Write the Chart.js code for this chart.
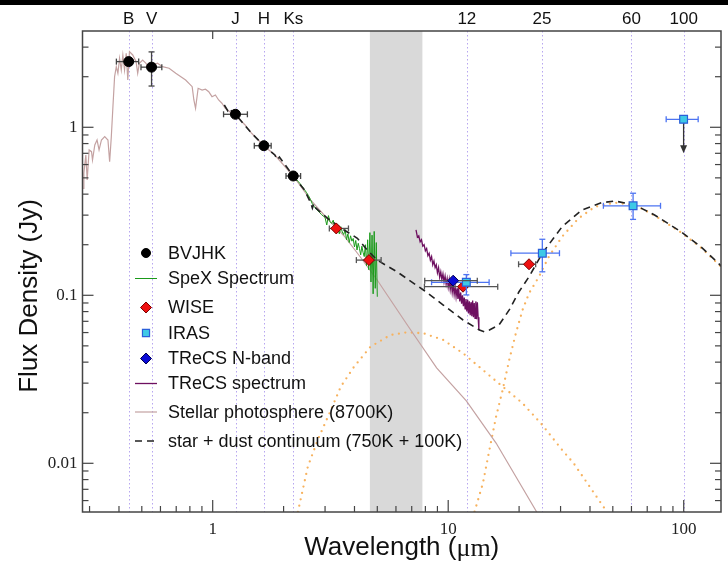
<!DOCTYPE html>
<html>
<head>
<meta charset="utf-8">
<script src="https://cdn.jsdelivr.net/npm/chart.js@4.4.0/dist/chart.umd.min.js"></script>
<style>
  html, body { margin: 0; padding: 0; background: #fff; }
  #sed { display: block; }
</style>
</head>
<body>
<canvas id="sed" width="728" height="563"></canvas>
<script>
// ---- photometry (wavelength in micron, flux in Jy) ----
const bvjhkWave = [0.44, 0.55, 1.249, 1.650, 2.198];
const bvjhkFlux = [2.46, 2.28, 1.195, 0.777, 0.513];
const bvjhkWaveErr = [[0.390, 0.485], [0.496, 0.608], [1.112, 1.404], [1.502, 1.771], [2.048, 2.362]];
const bvjhkFluxErr = [null, [1.76, 2.81], null, null, null];

const wiseWave = [3.346, 4.607, 11.56, 22.04];
const wiseFlux = [0.250, 0.162, 0.1125, 0.153];
const wiseWaveErr = [[3.128, 3.771], [4.074, 5.190], [7.925, 16.23], [19.90, 23.52]];

const irasWave = [11.94, 25.10, 60.96, 99.9];
const irasFlux = [0.1195, 0.178, 0.341, 1.116];
const irasWaveErr = [[8.5, 14.92], [18.46, 29.68], [45.6, 79.72], [84.25, 115.2]];
const irasFluxErr = [[0.1005, 0.1328], [0.138, 0.2155], [0.283, 0.405], null];
const irasUpperTo = [null, null, null, 0.70];

const nbandWave = [10.50];
const nbandFlux = [0.1222];
const nbandWaveErr = [[7.95, 13.29]];

// ---- spectra and models ----
const specxWave = [2.15, 2.20, 2.25, 2.30, 2.35, 2.40, 2.45, 2.50, 2.55, 2.60, 2.65, 2.70, 2.75, 2.80, 2.85, 2.90, 2.95, 3.00, 3.05, 3.10, 3.15, 3.20, 3.25, 3.30, 3.35, 3.40, 3.45, 3.50, 3.55, 3.60, 3.65, 3.70, 3.75, 3.80, 3.85, 3.90, 3.95, 4.00, 4.05, 4.10, 4.15, 4.20, 4.25, 4.30, 4.35, 4.40, 4.45, 4.50, 4.55, 4.60, 4.65, 4.70, 4.75, 4.80, 4.85, 4.90, 4.95, 5.00];
const specxFlux = [0.530, 0.512, 0.495, 0.478, 0.462, 0.444, 0.426, 0.410, 0.392, 0.372, 0.350, 0.338, 0.326, 0.318, 0.310, 0.302, 0.296, 0.290, 0.262, 0.298, 0.274, 0.268, 0.280, 0.252, 0.262, 0.250, 0.232, 0.256, 0.238, 0.230, 0.246, 0.214, 0.232, 0.206, 0.226, 0.210, 0.218, 0.194, 0.212, 0.186, 0.204, 0.190, 0.174, 0.196, 0.180, 0.170, 0.200, 0.150, 0.214, 0.142, 0.236, 0.120, 0.228, 0.102, 0.240, 0.110, 0.206, 0.098];

const trecsWave = [7.30, 7.40, 7.50, 7.60, 7.70, 7.80, 7.90, 8.00, 8.10, 8.20, 8.30, 8.40, 8.50, 8.60, 8.70, 8.80, 8.90, 9.00, 9.10, 9.20, 9.30, 9.40, 9.50, 9.60, 9.70, 9.80, 9.90, 10.00, 10.10, 10.20, 10.30, 10.40, 10.50, 10.60, 10.70, 10.80, 10.90, 11.00, 11.10, 11.20, 11.30, 11.40, 11.50, 11.60, 11.70, 11.80, 11.90, 12.00, 12.10, 12.20, 12.30, 12.40, 12.50, 12.60, 12.70, 12.80, 12.90, 13.00, 13.10, 13.20, 13.30, 13.40, 13.50];
const trecsFlux = [0.245, 0.222, 0.226, 0.208, 0.214, 0.196, 0.200, 0.184, 0.190, 0.172, 0.178, 0.162, 0.170, 0.152, 0.160, 0.146, 0.152, 0.136, 0.146, 0.128, 0.138, 0.124, 0.134, 0.120, 0.130, 0.116, 0.126, 0.112, 0.124, 0.108, 0.120, 0.104, 0.116, 0.101, 0.112, 0.098, 0.110, 0.095, 0.106, 0.092, 0.104, 0.089, 0.100, 0.086, 0.097, 0.083, 0.095, 0.080, 0.094, 0.078, 0.092, 0.076, 0.091, 0.075, 0.093, 0.074, 0.090, 0.073, 0.092, 0.072, 0.091, 0.074, 0.062];

const photWave = [0.2818, 0.2838, 0.2893, 0.2931, 0.2988, 0.3058, 0.3088, 0.3158, 0.3228, 0.3292, 0.3370, 0.3479, 0.3591, 0.3651, 0.3711, 0.3770, 0.3832, 0.3897, 0.3958, 0.4023, 0.4090, 0.4154, 0.4223, 0.4293, 0.4360, 0.4432, 0.4576, 0.4729, 0.4803, 0.4882, 0.5042, 0.5210, 0.5380, 0.5555, 0.5830, 0.6119, 0.6530, 0.6968, 0.7675, 0.8182, 0.8319, 0.8457, 0.8673, 0.9016, 0.9317, 0.9620, 0.9933, 1.0266, 1.0598, 1.0942, 1.1310, 1.2057, 1.2864, 1.3728, 1.463, 1.650, 1.836, 2.198, 2.609, 3.076, 3.616, 4.235, 4.993, 6.874, 8.929, 11.94, 15.97, 23.76, 31.46];
const photFlux = [0.4334, 0.5346, 0.6841, 0.4857, 0.7326, 0.7157, 0.6389, 0.7846, 0.8403, 0.7326, 0.8403, 0.879, 0.8403, 0.624, 0.879, 1.326, 2.001, 2.295, 2.096, 2.575, 2.193, 2.694, 2.193, 2.757, 1.912, 2.818, 2.694, 2.458, 2.096, 2.404, 2.515, 2.404, 2.193, 2.349, 2.404, 2.295, 2.245, 2.096, 1.912, 1.745, 1.454, 1.298, 1.707, 1.667, 1.684, 1.629, 1.521, 1.557, 1.454, 1.39, 1.298, 1.211, 1.131, 1.032, 0.921, 0.777, 0.684, 0.513, 0.369, 0.2845, 0.2254, 0.169, 0.1233, 0.0632, 0.037, 0.0235, 0.0132, 0.00513, 0.00285];

const hotWave = [2.300, 2.535, 2.792, 3.177, 3.499, 3.985, 4.679, 5.679, 6.677, 7.849, 9.528, 11.56, 14.04, 17.03, 20.69, 25.10, 30.46, 34.09, 47.25];
const hotFlux = [0.00513, 0.00955, 0.01376, 0.02077, 0.02858, 0.03758, 0.04943, 0.058, 0.0602, 0.0594, 0.0542, 0.0452, 0.0359, 0.0286, 0.02276, 0.0169, 0.012, 0.010, 0.00513];

const coldWave = [12.94, 14.04, 14.96, 15.97, 17.03, 18.16, 19.38, 20.69, 22.04, 24.29, 26.76, 30.46, 35.78, 42.06, 51.05, 61.97, 75.20, 97.40, 118.2, 145.3];
const coldFlux = [0.00515, 0.0076, 0.012, 0.01894, 0.0273, 0.0412, 0.0594, 0.0818, 0.1028, 0.129, 0.1698, 0.2233, 0.287, 0.3368, 0.3557, 0.345, 0.2985, 0.2365, 0.1925, 0.1464];

const dustWave = [1.120, 1.160, 1.190, 1.220, 1.249, 1.463, 1.650, 1.836, 1.880, 1.920, 2.198, 2.455, 2.609, 2.650, 2.690, 2.738, 3.076, 3.616, 4.114, 4.532, 4.993, 6.061, 7.849, 9.528, 11.56, 13.58, 14.30, 14.96, 16.44, 18.16, 19.95, 22.04, 25.10, 30.46, 36.98, 44.88, 51.05, 61.97, 75.20, 97.40, 118.2, 145.3];
const dustFlux = [1.357, 1.250, 1.290, 1.180, 1.195, 0.921, 0.777, 0.684, 0.640, 0.665, 0.513, 0.423, 0.354, 0.330, 0.352, 0.331, 0.287, 0.2446, 0.2184, 0.186, 0.162, 0.138, 0.1075, 0.0875, 0.0713, 0.0621, 0.0605, 0.0621, 0.0666, 0.0818, 0.1046, 0.129, 0.178, 0.256, 0.322, 0.356, 0.364, 0.345, 0.3006, 0.239, 0.1947, 0.148];

// ---- axis decorations ----
const bandNames = ['B', 'V', 'J', 'H', 'Ks', '12', '25', '60', '100'];
const bandWave = [0.44, 0.55, 1.25, 1.65, 2.2, 12, 25, 60, 100];
const greyBand = [4.65, 7.77];
const legendOrder = ['BVJHK', 'SpeX Spectrum', 'WISE', 'IRAS', 'TReCS N-band', 'TReCS spectrum', 'Stellar photosphere (8700K)', 'star + dust continuum (750K + 100K)'];

const pts = (xs, ys) => xs.map((x, i) => ({ x, y: ys[i] }));

function isDecade(v) {
  const l = Math.log10(v);
  return Math.abs(l - Math.round(l)) < 1e-6;
}
function decadeLabel(v) {
  const e = Math.round(Math.log10(v));
  return e >= 0 ? String(Math.pow(10, e)) : Math.pow(10, e).toFixed(-e);
}

function drawMarker(ctx, style, x, y, r, fill, stroke, lw) {
  ctx.beginPath();
  if (style === 'circle') {
    ctx.arc(x, y, r, 0, Math.PI * 2);
  } else if (style === 'rectRot') {
    ctx.moveTo(x, y - r); ctx.lineTo(x + r, y); ctx.lineTo(x, y + r); ctx.lineTo(x - r, y); ctx.closePath();
  } else {
    const s = r * Math.SQRT1_2;
    ctx.rect(x - s, y - s, 2 * s, 2 * s);
  }
  ctx.fillStyle = fill; ctx.fill();
  ctx.lineWidth = lw; ctx.strokeStyle = stroke; ctx.stroke();
}

function seg(ctx, x0, y0, x1, y1) {
  ctx.beginPath(); ctx.moveTo(x0, y0); ctx.lineTo(x1, y1); ctx.stroke();
}

const sedExtras = {
  id: 'sedExtras',
  beforeDraw(chart) {
    const { ctx } = chart;
    ctx.save();
    ctx.fillStyle = '#000';
    ctx.fillRect(0, 0, chart.width, 5);
    ctx.restore();
  },
  beforeDatasetsDraw(chart) {
    const { ctx, chartArea: a, scales: { x } } = chart;
    ctx.save();
    const g0 = x.getPixelForValue(greyBand[0]);
    const g1 = x.getPixelForValue(greyBand[1]);
    ctx.fillStyle = '#d9d9d9';
    ctx.fillRect(g0, a.top, g1 - g0, a.bottom - a.top);
    ctx.strokeStyle = '#b7a6f0';
    ctx.lineWidth = 1;
    ctx.setLineDash([1.5, 2.5]);
    bandWave.forEach(w => {
      const px = Math.round(x.getPixelForValue(w)) + 0.5;
      seg(ctx, px, a.top, px, a.bottom);
    });
    ctx.restore();
  },
  beforeDatasetDraw(chart, args) {
    const ds = chart.data.datasets[args.index];
    if (!ds.errX && !ds.errY && !ds.upperTo) return;
    const { ctx, scales: { x, y } } = chart;
    ctx.save();
    ctx.strokeStyle = ds.errColor;
    ctx.lineWidth = 1.3;
    ds.data.forEach((p, i) => {
      const px = x.getPixelForValue(p.x), py = y.getPixelForValue(p.y);
      const ex = ds.errX && ds.errX[i];
      if (ex) {
        const a = x.getPixelForValue(ex[0]), b = x.getPixelForValue(ex[1]);
        seg(ctx, a, py, b, py);
        seg(ctx, a, py - 3, a, py + 3);
        seg(ctx, b, py - 3, b, py + 3);
      }
      const ey = ds.errY && ds.errY[i];
      if (ey) {
        const a = y.getPixelForValue(ey[0]), b = y.getPixelForValue(ey[1]);
        seg(ctx, px, a, px, b);
        seg(ctx, px - 3, a, px + 3, a);
        seg(ctx, px - 3, b, px + 3, b);
      }
      const lim = ds.upperTo && ds.upperTo[i];
      if (lim) {
        const b = y.getPixelForValue(lim);
        ctx.save();
        ctx.strokeStyle = '#333';
        ctx.fillStyle = '#333';
        seg(ctx, px, py, px, b - 4);
        ctx.beginPath();
        ctx.moveTo(px, b); ctx.lineTo(px - 3.5, b - 8); ctx.lineTo(px + 3.5, b - 8); ctx.closePath();
        ctx.fill();
        ctx.restore();
      }
    });
    ctx.restore();
  },
  afterDraw(chart) {
    const { ctx, chartArea: a, scales: { x, y } } = chart;
    ctx.save();

    // frame
    ctx.strokeStyle = '#444';
    ctx.lineWidth = 1.5;
    ctx.strokeRect(a.left, a.top, a.right - a.left, a.bottom - a.top);

    // inward ticks
    ctx.lineWidth = 1.2;
    x.ticks.forEach(t => {
      const v = t.value;
      const e = Math.floor(Math.log10(v) + 1e-9);
      const m = v / Math.pow(10, e);
      if (Math.abs(m - Math.round(m)) > 1e-6) return;
      const len = Math.round(m) === 1 ? 12 : 6;
      const px = x.getPixelForValue(v);
      seg(ctx, px, a.bottom, px, a.bottom - len);
      if (Math.abs(v - 1) < 1e-9) seg(ctx, px, a.top, px, a.top + 8);
    });
    y.ticks.forEach(t => {
      const v = t.value;
      const e = Math.floor(Math.log10(v) + 1e-9);
      const m = v / Math.pow(10, e);
      if (Math.abs(m - Math.round(m)) > 1e-6) return;
      const len = Math.round(m) === 1 ? 11 : 6;
      const py = y.getPixelForValue(v);
      seg(ctx, a.left, py, a.left + len, py);
      seg(ctx, a.right, py, a.right - len, py);
    });

    // band labels above the frame
    ctx.fillStyle = '#111';
    ctx.font = '17px "Liberation Sans"';
    ctx.textAlign = 'center';
    ctx.textBaseline = 'middle';
    bandNames.forEach((n, i) => ctx.fillText(n, x.getPixelForValue(bandWave[i]), 19));

    // axis titles
    ctx.font = '26px "Liberation Sans"';
    const p1 = 'Wavelength (', p2 = '\u03bcm', p3 = ')';
    const w1 = ctx.measureText(p1).width, w3 = ctx.measureText(p3).width;
    ctx.font = '26px "Liberation Serif"';
    const w2 = ctx.measureText(p2).width;
    let tx = (a.left + a.right) / 2 - (w1 + w2 + w3) / 2;
    ctx.textAlign = 'left';
    ctx.font = '26px "Liberation Sans"';
    ctx.fillText(p1, tx, 548);
    ctx.font = '26px "Liberation Serif"';
    ctx.fillText(p2, tx + w1, 549);
    ctx.font = '26px "Liberation Sans"';
    ctx.fillText(p3, tx + w1 + w2, 548);

    ctx.save();
    ctx.translate(30, 296);
    ctx.rotate(-Math.PI / 2);
    ctx.textAlign = 'center';
    ctx.fillText('Flux Density (Jy)', 0, 0);
    ctx.restore();

    // legend
    const rowY = [253, 278.5, 307.5, 333, 358.5, 383.5, 412, 441];
    ctx.font = '18px "Liberation Sans"';
    ctx.textAlign = 'left';
    legendOrder.forEach((lab, i) => {
      const ds = chart.data.datasets.find(d => d.label === lab);
      const ly = rowY[i];
      if (ds.showLine) {
        ctx.save();
        ctx.strokeStyle = ds.borderColor;
        ctx.lineWidth = ds.borderWidth;
        ctx.setLineDash(ds.borderDash || []);
        seg(ctx, 135, ly, 157, ly);
        ctx.restore();
      } else {
        drawMarker(ctx, ds.pointStyle, 146, ly, ds.legendRadius, ds.backgroundColor, ds.borderColor, ds.borderWidth);
      }
      ctx.fillStyle = '#111';
      ctx.fillText(lab, 168, ly + 1);
    });
    ctx.restore();
  }
};

new Chart(document.getElementById('sed'), {
  type: 'scatter',
  data: {
    datasets: [
      {
        label: 'TReCS N-band', data: pts(nbandWave, nbandFlux), order: 1,
        pointStyle: 'rectRot', pointRadius: 5.5, legendRadius: 5.5,
        backgroundColor: '#0b0bd6', borderColor: '#000050', borderWidth: 1,
        errX: nbandWaveErr, errColor: '#555'
      },
      {
        label: 'IRAS', data: pts(irasWave, irasFlux), order: 2,
        pointStyle: 'rect', pointRadius: 5.5, legendRadius: 5,
        backgroundColor: '#3ec9e6', borderColor: '#2b5fd9', borderWidth: 1.2,
        errX: irasWaveErr, errY: irasFluxErr, upperTo: irasUpperTo, errColor: '#4d74f2'
      },
      {
        label: 'WISE', data: pts(wiseWave, wiseFlux), order: 3,
        pointStyle: 'rectRot', pointRadius: 5.5, legendRadius: 5.5,
        backgroundColor: '#ee1111', borderColor: '#7a0000', borderWidth: 1,
        errX: wiseWaveErr, errColor: '#555'
      },
      {
        label: 'BVJHK', data: pts(bvjhkWave, bvjhkFlux), order: 4,
        pointStyle: 'circle', pointRadius: 5, legendRadius: 4.5,
        backgroundColor: '#000', borderColor: '#000', borderWidth: 1,
        errX: bvjhkWaveErr, errY: bvjhkFluxErr, errColor: '#444'
      },
      {
        label: 'star + dust continuum (750K + 100K)', data: pts(dustWave, dustFlux), order: 5,
        showLine: true, pointRadius: 0, borderColor: '#222', borderWidth: 1.6, borderDash: [7, 5]
      },
      {
        label: 'SpeX Spectrum', data: pts(specxWave, specxFlux), order: 6,
        showLine: true, pointRadius: 0, borderColor: '#1a9a1a', borderWidth: 1
      },
      {
        label: 'TReCS spectrum', data: pts(trecsWave, trecsFlux), order: 6,
        showLine: true, pointRadius: 0, borderColor: '#6e1060', borderWidth: 1.3
      },
      {
        label: 'Stellar photosphere (8700K)', data: pts(photWave, photFlux), order: 8,
        showLine: true, pointRadius: 0, borderColor: '#c4a2a2', borderWidth: 1.2
      },
      {
        label: 'dust 750K', data: pts(hotWave, hotFlux), order: 9,
        showLine: true, pointRadius: 0, borderColor: '#f7b25e', borderWidth: 2.3,
        borderDash: [0, 6.5], borderCapStyle: 'round'
      },
      {
        label: 'dust 100K', data: pts(coldWave, coldFlux), order: 9,
        showLine: true, pointRadius: 0, borderColor: '#f7b25e', borderWidth: 2.3,
        borderDash: [0, 6.5], borderCapStyle: 'round'
      }
    ]
  },
  options: {
    responsive: false,
    animation: false,
    devicePixelRatio: 1,
    layout: { padding: { top: 31, right: 1, left: 0, bottom: 0 } },
    plugins: { legend: { display: false }, tooltip: { enabled: false } },
    scales: {
      x: {
        type: 'logarithmic', min: 0.28, max: 144,
        grid: { display: false, drawTicks: false }, border: { display: false },
        ticks: {
          autoSkip: false, maxRotation: 0, padding: 7, color: '#222',
          font: { family: 'Liberation Serif', size: 17 },
          callback: v => isDecade(v) ? decadeLabel(v) : ''
        },
        afterFit: s => { s.height = 51; }
      },
      y: {
        type: 'logarithmic', min: 0.00513, max: 3.742,
        grid: { display: false, drawTicks: false }, border: { display: false },
        ticks: {
          autoSkip: false, padding: 5, color: '#222',
          font: { family: 'Liberation Serif', size: 17 },
          callback: v => isDecade(v) ? decadeLabel(v) : ''
        },
        afterFit: s => { s.width = 82.5; }
      }
    }
  },
  plugins: [sedExtras]
});
</script>
</body>
</html>
